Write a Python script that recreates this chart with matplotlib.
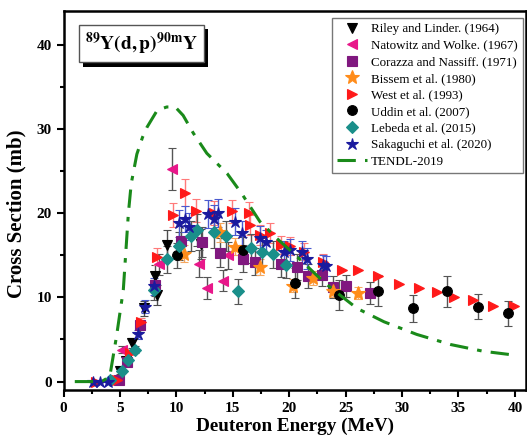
import matplotlib
matplotlib.use('Agg')
import matplotlib.pyplot as plt
import matplotlib.patheffects as pe
from matplotlib.ticker import MultipleLocator

plt.rcParams['font.family'] = ['Liberation Serif', 'DejaVu Serif']
plt.rcParams['mathtext.fontset'] = 'stix'

# ---- data -----------------------------------------------------------------
riley_e = [5.0, 5.5, 6.1, 7.1, 8.1, 8.3, 9.2, 12.2]
riley_s = [1.2, 2.4, 4.6, 8.7, 12.5, 10.3, 16.2, 16.3]
riley_err = [0.3, 0.4, 0.6, 0.9, 1.3, 1.2, 1.8, 1.8]

nat_e = [5.2, 8.5, 9.6, 12.0, 12.7, 14.1, 14.6]
nat_s = [3.8, 13.9, 25.2, 14.0, 11.1, 12.0, 15.0]
nat_err = [0.4, 1.3, 2.5, 1.6, 1.3, 1.3, 1.6]

cor_e = [4.9, 5.6, 6.8, 8.1, 10.4, 12.3, 13.9, 15.9, 17.0, 19.3,
         20.7, 21.7, 22.9, 23.9, 25.0, 27.2]
cor_s = [0.2, 2.3, 6.7, 11.5, 16.7, 16.6, 15.3, 14.6, 14.2, 14.0,
         13.6, 12.5, 12.7, 11.2, 11.4, 10.5]
cor_err = [0.1, 0.3, 0.8, 1.3, 1.8, 1.8, 1.7, 1.6, 1.6, 1.6,
           1.5, 1.4, 1.4, 1.3, 1.3, 1.3]

bis_e = [10.7, 13.9, 15.2, 17.4, 20.3, 22.1, 23.9, 26.1]
bis_s = [15.2, 17.7, 16.0, 13.6, 11.4, 12.3, 10.8, 10.5]
bis_err = [1.0, 1.1, 1.0, 0.9, 0.8, 0.8, 0.8, 0.7]

west_e = [2.9, 4.7, 5.9, 6.9, 8.3, 9.7, 10.8, 11.7, 13.3, 14.9, 16.4, 16.5,
          17.4, 18.3, 19.3, 20.1, 21.3, 23.0, 24.7, 26.1, 27.9, 29.7, 31.5,
          33.1, 34.6, 36.3, 38.1, 39.9]
west_s = [0.0, 0.2, 3.4, 7.1, 14.8, 19.8, 22.4, 20.3, 20.0, 20.2, 20.0, 18.6,
          17.4, 17.6, 16.2, 16.1, 15.4, 14.2, 13.3, 13.2, 12.5, 11.6, 11.1,
          10.6, 10.1, 9.7, 9.0, 9.0]
west_err = [0.0, 0.0, 0.3, 0.5, 1.0, 1.4, 1.6, 1.4, 1.4, 1.4, 1.3, 1.2,
            1.2, 1.2, 1.1, 1.1, 1.0, 0.9, 0.0, 0.0, 0.0, 0.0, 0.0,
            0.0, 0.0, 0.0, 0.0, 0.0]

udd_e = [10.1, 15.9, 20.5, 24.4, 27.9, 31.0, 34.0, 36.7, 39.4]
udd_s = [15.0, 15.6, 11.7, 10.3, 10.8, 8.7, 10.7, 8.9, 8.1]
udd_err = [1.5, 1.6, 1.8, 1.8, 1.8, 1.6, 1.8, 1.5, 1.5]

leb_e = [4.1, 5.2, 5.7, 6.3, 8.0, 9.2, 10.2, 11.3, 11.8, 13.3, 14.4, 15.5,
         16.6, 17.6, 18.6, 19.7]
leb_s = [0.2, 1.2, 2.6, 3.8, 10.9, 14.5, 16.1, 17.3, 18.0, 17.7, 17.3, 10.7,
         15.8, 15.4, 15.1, 13.8]
leb_err = [0.1, 0.2, 0.3, 0.4, 1.2, 1.6, 1.7, 1.8, 1.9, 1.9, 1.8, 1.5,
           1.7, 1.6, 1.6, 1.5]

sak_e = [2.6, 3.2, 3.9, 6.6, 7.2, 8.0, 10.2, 10.8, 11.1, 12.8, 13.3, 13.7,
         15.2, 15.8, 17.4, 17.9, 19.5, 20.1, 21.1, 21.6, 23.0, 23.3]
sak_s = [0.0, 0.0, 0.0, 5.6, 8.9, 11.3, 18.8, 19.3, 18.4, 19.9, 19.3, 20.0,
         19.0, 17.6, 17.0, 16.6, 15.4, 15.6, 15.4, 14.6, 13.8, 13.7]
sak_err = [0.1, 0.1, 0.1, 0.5, 0.8, 1.0, 1.6, 1.6, 1.6, 1.7, 1.7, 1.7,
           1.6, 1.5, 1.5, 1.4, 1.3, 1.3, 1.3, 1.2, 1.2, 1.2]

tendl_e = [1.0, 2.0, 3.0, 3.5, 4.1, 4.7, 5.3, 5.75, 6.0, 6.5, 7.0, 7.4, 8.3,
           9.15, 9.9, 10.6, 11.5, 12.7, 14.5, 15.8, 17.4, 18.9, 20.4, 21.9,
           23.0, 23.9, 26.0, 28.4, 31.3, 34.3, 37.2, 40.2]
tendl_s = [0.0, 0.0, 0.0, 0.1, 0.6, 5.4, 10.9, 20.0, 23.5, 27.0, 29.0, 30.2,
           32.2, 32.6, 32.6, 31.6, 29.5, 27.1, 24.7, 22.3, 19.0, 17.0, 15.2,
           13.3, 11.9, 10.9, 8.7, 7.1, 5.6, 4.4, 3.6, 3.1]

# ---- figure ---------------------------------------------------------------
fig = plt.figure(figsize=(5.27, 4.47), dpi=100)
ax = fig.add_axes([0.1205, 0.1275, 0.878, 0.848])

series = [
    (riley_e, riley_s, riley_err, 'Riley and Linder. (1964)', 'v', 'black', '#4d4d4d', 7),
    (nat_e, nat_s, nat_err, 'Natowitz and Wolke. (1967)', '<', '#e8178a', '#555555', 7),
    (cor_e, cor_s, cor_err, 'Corazza and Nassiff. (1971)', 's', '#80187f', '#555555', 6.5),
    (bis_e, bis_s, bis_err, 'Bissem et al. (1980)', '*', '#ff8c1a', '#f5a860', 10),
    (west_e, west_s, west_err, 'West et al. (1993)', '>', '#ff1a1a', '#ff7a7a', 7),
    (udd_e, udd_s, udd_err, 'Uddin et al. (2007)', 'o', 'black', '#555555', 7),
    (leb_e, leb_s, leb_err, 'Lebeda et al. (2015)', 'D', '#1a8f8a', '#555555', 6.5),
    (sak_e, sak_s, sak_err, 'Sakaguchi et al. (2020)', '*', '#1a1a9e', '#4a5acf', 9),
]

handles, labels = [], []
for e, s, err, lab, mk, col, ecol, ms in series:
    c = ax.errorbar(e, s, yerr=err, fmt=mk, color=col, ecolor=ecol, ms=ms,
                    mec=col, mew=0.8, elinewidth=1.0, capsize=3, capthick=1.0,
                    zorder=3)
    handles.append(c[0])
    labels.append(lab)

tendl, = ax.plot(tendl_e, tendl_s, color='#1a8a1a', lw=2.2,
                 ls=(0, (6, 3, 1.5, 3)), zorder=4)
handles.append(tendl)
labels.append('TENDL-2019')

ax.set_xlim(0, 41)
ax.set_ylim(-1, 44)
ax.xaxis.set_major_locator(MultipleLocator(5))
ax.xaxis.set_minor_locator(MultipleLocator(2.5))
ax.yaxis.set_major_locator(MultipleLocator(10))
ax.yaxis.set_minor_locator(MultipleLocator(5))
ax.tick_params(which='major', direction='out', length=5, width=1.5,
               labelsize=11, top=False, right=False)
ax.tick_params(which='minor', direction='out', length=3, width=1.5,
               top=False, right=False)
for lbl in ax.get_xticklabels() + ax.get_yticklabels():
    lbl.set_fontweight('bold')
for sp in ax.spines.values():
    sp.set_linewidth(1.8)

ax.set_xlabel('Deuteron Energy (MeV)', fontsize=13.8, fontweight='bold', labelpad=2)
ax.set_ylabel('Cross Section (mb)', fontsize=15, fontweight='bold')
ax.yaxis.set_label_coords(-0.079, 0.465)

leg = ax.legend(handles, labels, loc='upper right',
                fontsize=9.4, frameon=True, fancybox=False,
                edgecolor='#777777', framealpha=1, labelspacing=0.34,
                handlelength=2.3, handletextpad=0.25, borderpad=0.4,
                borderaxespad=0.0, bbox_to_anchor=(0.992, 0.982))
leg.get_frame().set_linewidth(1.0)

t = ax.text(0.168, 0.914, r'$\mathbf{^{89}Y(d,p)^{90m}Y}$', transform=ax.transAxes,
            fontsize=14, ha='center', va='center',
            bbox=dict(boxstyle='square,pad=0.3', facecolor='white',
                      edgecolor='#555555', lw=1.0))
t.get_bbox_patch().set_path_effects([
    pe.SimplePatchShadow(offset=(3, -3), shadow_rgbFace='black', alpha=1.0),
    pe.Normal()])

fig.savefig('out.png', dpi=100, facecolor='white')
